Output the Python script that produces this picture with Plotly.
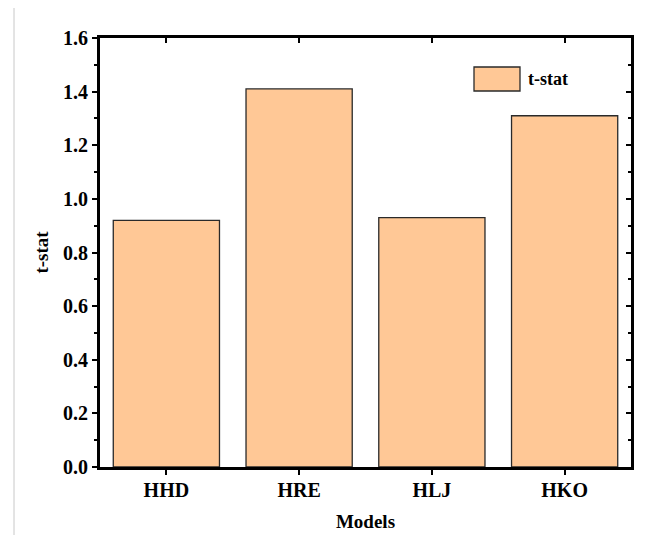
import plotly.graph_objects as go

categories = ["HHD", "HRE", "HLJ", "HKO"]
t_stat = [0.92, 1.41, 0.93, 1.31]
y_ticks = [0.0, 0.2, 0.4, 0.6, 0.8, 1.0, 1.2, 1.4, 1.6]
y_tick_labels = ["0.0", "0.2", "0.4", "0.6", "0.8", "1.0", "1.2", "1.4", "1.6"]
series_name = "t-stat"

FONT = "Liberation Serif"
# the page body adds an 8px offset, so the figure is 8px smaller than the window
W, H = 648, 527
ML, MR, MT, MB = 92, 25, 30, 68
PW, PH = W - ML - MR, H - MT - MB

BAR_COLOR = "#FFC896"
EDGE = "#2a2a2a"

def px_x(fx):
    return (fx - ML) / PW

def px_y(fy):
    return 1 - (fy - MT) / PH

fig = go.Figure()
fig.add_trace(go.Bar(
    x=categories, y=t_stat, name=series_name, width=0.8, showlegend=False,
    marker=dict(color=BAR_COLOR, line=dict(color=EDGE, width=1.3)),
))

tick_font = dict(family=FONT, size=20, color="black", weight="bold")
title_font = dict(family=FONT, size=19, color="black", weight="bold")
fig.update_layout(
    width=W, height=H,
    margin=dict(l=ML, r=MR, t=MT, b=MB, autoexpand=False),
    plot_bgcolor="white", paper_bgcolor="white",
    font=dict(family=FONT, color="black"),
    bargap=0.2,
    xaxis=dict(
        type="category", range=[-0.5, 3.5], automargin=False,
        showline=True, linecolor="black", linewidth=3,
        ticks="outside", ticklen=5, tickwidth=2, tickcolor="black",
        tickfont=tick_font, ticklabelstandoff=-2,
        title=dict(text="Models", font=title_font, standoff=15),
        showgrid=False, zeroline=False,
    ),
    yaxis=dict(
        range=[0, 1.6], tickvals=y_ticks, ticktext=y_tick_labels, automargin=False,
        showline=True, linecolor="black", linewidth=3,
        ticks="outside", ticklen=5, tickwidth=2, tickcolor="black",
        minor=dict(dtick=0.1, ticks="outside", ticklen=3, tickwidth=2, tickcolor="black"),
        tickfont=tick_font,
        title=dict(text="t-stat", font=title_font, standoff=10),
        showgrid=False, zeroline=False,
    ),
    xaxis2=dict(
        overlaying="x", side="top", type="category", range=[-0.5, 3.5],
        tickvals=categories, showticklabels=False, automargin=False,
        showline=True, linecolor="black", linewidth=3,
        ticks="inside", ticklen=5, tickwidth=2, tickcolor="black",
        showgrid=False, zeroline=False,
    ),
    yaxis2=dict(
        overlaying="y", side="right", range=[0, 1.6], tickvals=y_ticks,
        showticklabels=False, automargin=False,
        showline=True, linecolor="black", linewidth=3,
        ticks="inside", ticklen=5, tickwidth=2, tickcolor="black",
        minor=dict(dtick=0.1, ticks="inside", ticklen=3, tickwidth=2, tickcolor="black"),
        showgrid=False, zeroline=False,
    ),
)
fig.add_trace(go.Scatter(x=categories, y=[None] * 4, xaxis="x2", yaxis="y2",
                         showlegend=False, hoverinfo="skip", mode="markers"))

# legend (drawn as a key box + label)
fig.add_shape(type="rect", xref="paper", yref="paper",
              x0=px_x(466), x1=px_x(512), y0=px_y(83), y1=px_y(59),
              fillcolor=BAR_COLOR, line=dict(color=EDGE, width=1.3))
fig.add_annotation(xref="paper", yref="paper", x=px_x(518), y=px_y(71),
                   xanchor="left", yanchor="middle", showarrow=False,
                   text="<b>" + series_name + "</b>",
                   font=dict(family=FONT, size=18, color="black"))

# page border lines seen in the reference screenshot
for fx in (6, 643):
    fig.add_shape(type="line", xref="paper", yref="paper", x0=px_x(fx), x1=px_x(fx),
                  y0=px_y(H), y1=px_y(-8),
                  line=dict(color="#c8c8c8", width=1))

fig.write_html("out.html")
